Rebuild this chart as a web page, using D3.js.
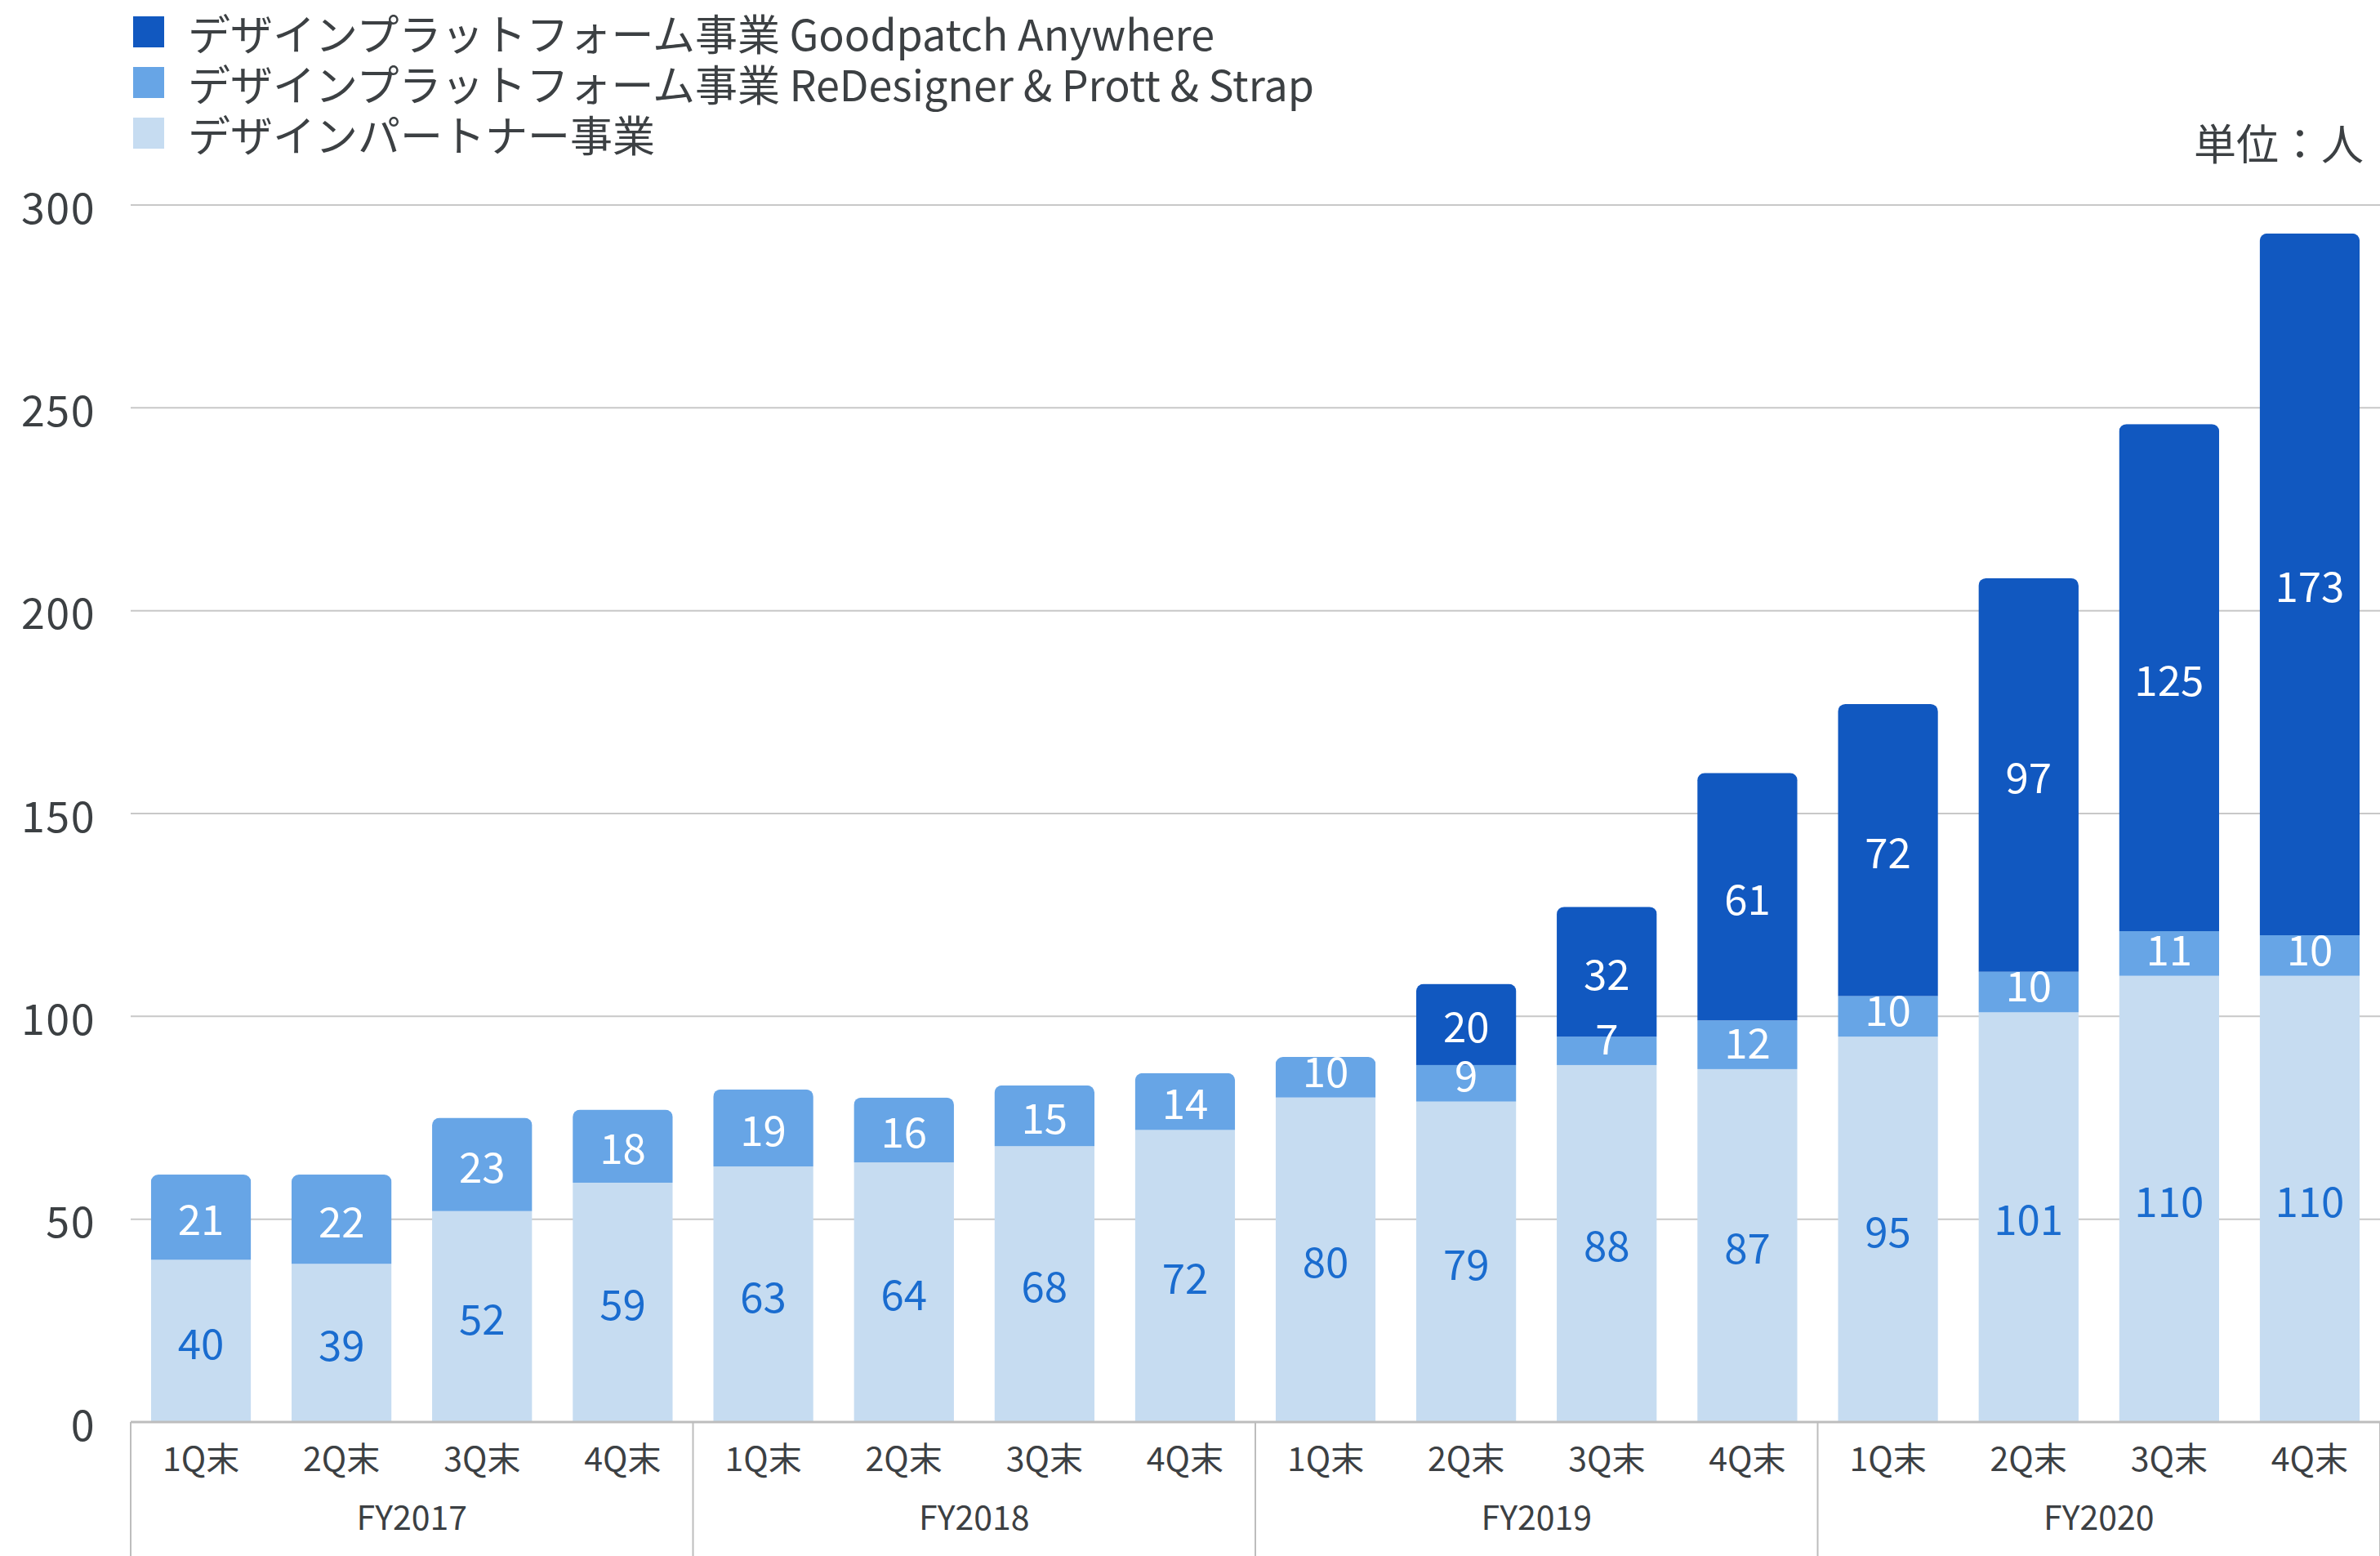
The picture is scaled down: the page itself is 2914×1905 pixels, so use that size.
<!DOCTYPE html>
<html>
<head>
<meta charset="utf-8">
<script src="https://cdn.jsdelivr.net/npm/d3@7"></script>
<style>
  html, body { margin: 0; padding: 0; background: #fff; }
  svg { display: block; }
  text { font-family: "Noto Sans CJK JP", "Noto Sans", sans-serif; }
</style>
</head>
<body>
<svg id="chart" width="2914" height="1905"></svg>
<script>
// Headcount by business at each quarter end (unit: people)
const fiscalYears = ["FY2017", "FY2018", "FY2019", "FY2020"];
const quarterLabels = ["1Q末", "2Q末", "3Q末", "4Q末"];
const partner   = [40, 39, 52, 59, 63, 64, 68, 72, 80, 79, 88, 87, 95, 101, 110, 110];
const redesigner = [21, 22, 23, 18, 19, 16, 15, 14, 10, 9, 7, 12, 10, 10, 11, 10];
const anywhere  = [0, 0, 0, 0, 0, 0, 0, 0, 0, 20, 32, 61, 72, 97, 125, 173];
const yTicks = [0, 50, 100, 150, 200, 250, 300];
const seriesNames = [
  "デザインプラットフォーム事業 Goodpatch Anywhere",
  "デザインプラットフォーム事業 ReDesigner & Prott & Strap",
  "デザインパートナー事業"
];
const unitLabel = "単位：人";

const colors = { partner: "#c6dcf1", redesigner: "#67a5e6", anywhere: "#1158c0" };
const labelColors = { partner: "#1a6ccf", redesigner: "#ffffff", anywhere: "#ffffff" };
const textColor = "#3c4043";

const svg = d3.select("#chart");
const W = 2914, H = 1905;
const plotLeft = 160, plotRight = 2914, plotTop = 251, plotBottom = 1741;
const labelBox = 70; // height reserved for a value label inside a segment

const rows = partner.map((d, i) => ({
  idx: i,
  fy: fiscalYears[Math.floor(i / 4)],
  q: quarterLabels[i % 4],
  partner: d,
  redesigner: redesigner[i],
  anywhere: anywhere[i]
}));

const keys = ["partner", "redesigner", "anywhere"];
const stacked = d3.stack().keys(keys)(rows);

const x = d3.scaleBand()
  .domain(rows.map(d => d.idx))
  .range([plotLeft, plotRight])
  .paddingInner(0.288)
  .paddingOuter(0.144);

const y = d3.scaleLinear().domain([0, 300]).range([plotBottom, plotTop]);

// Gridlines
svg.append("g")
  .selectAll("line")
  .data(yTicks.filter(t => t > 0))
  .join("line")
  .attr("x1", plotLeft).attr("x2", plotRight)
  .attr("y1", d => y(d)).attr("y2", d => y(d))
  .attr("stroke", "#c8c8c8").attr("stroke-width", 2);

// Y axis labels
svg.append("g")
  .selectAll("text")
  .data(yTicks)
  .join("text")
  .attr("x", 117)
  .attr("y", d => y(d))
  .attr("text-anchor", "end")
  .attr("dominant-baseline", "central")
  .attr("font-size", 52)
  .attr("letter-spacing", 1.5)
  .attr("fill", textColor)
  .text(d => d);

// Clip each stack to a rounded-top column
const defs = svg.append("defs");
rows.forEach(r => {
  const total = r.partner + r.redesigner + r.anywhere;
  defs.append("clipPath").attr("id", "bar-clip-" + r.idx)
    .append("rect")
    .attr("x", x(r.idx))
    .attr("y", y(total))
    .attr("width", x.bandwidth())
    .attr("height", plotBottom - y(total) + 30)
    .attr("rx", 9).attr("ry", 9);
});

const bars = svg.append("g");
rows.forEach(r => {
  const g = bars.append("g").attr("clip-path", "url(#bar-clip-" + r.idx + ")");
  stacked.forEach(s => {
    const seg = s[r.idx];
    const v = seg[1] - seg[0];
    if (v <= 0) return;
    g.append("rect")
      .attr("x", x(r.idx))
      .attr("y", y(seg[1]))
      .attr("width", x.bandwidth())
      .attr("height", y(seg[0]) - y(seg[1]))
      .attr("fill", colors[s.key]);
  });
  stacked.forEach(s => {
    const seg = s[r.idx];
    const v = seg[1] - seg[0];
    if (v <= 0) return;
    // centre the label; in thin segments keep its box resting on the segment bottom
    const segH = y(seg[0]) - y(seg[1]);
    const ly = y(seg[0]) - Math.max(segH / 2, labelBox / 2);
    g.append("text")
      .attr("x", x(r.idx) + x.bandwidth() / 2)
      .attr("y", ly)
      .attr("text-anchor", "middle")
      .attr("dominant-baseline", "central")
      .attr("font-size", 51)
      .attr("fill", labelColors[s.key])
      .text(v);
  });
});

// Baseline
svg.append("line")
  .attr("x1", plotLeft).attr("x2", plotRight)
  .attr("y1", plotBottom).attr("y2", plotBottom)
  .attr("stroke", "#bdbdbd").attr("stroke-width", 3);

// Group dividers
const step = x.step();
svg.append("g")
  .selectAll("line")
  .data(d3.range(fiscalYears.length + 1))
  .join("line")
  .attr("x1", k => plotLeft + k * 4 * step)
  .attr("x2", k => plotLeft + k * 4 * step)
  .attr("y1", plotBottom).attr("y2", H)
  .attr("stroke", "#bdbdbd").attr("stroke-width", 2);

// Quarter labels
svg.append("g")
  .selectAll("text")
  .data(rows)
  .join("text")
  .attr("x", d => x(d.idx) + x.bandwidth() / 2)
  .attr("y", 1783)
  .attr("text-anchor", "middle")
  .attr("dominant-baseline", "central")
  .attr("font-size", 41)
  .attr("fill", textColor)
  .text(d => d.q);

// Fiscal year labels
svg.append("g")
  .selectAll("text")
  .data(fiscalYears)
  .join("text")
  .attr("x", (d, k) => plotLeft + (k * 4 + 2) * step)
  .attr("y", 1855)
  .attr("text-anchor", "middle")
  .attr("dominant-baseline", "central")
  .attr("font-size", 41)
  .attr("fill", textColor)
  .text(d => d);

// Legend
const legendKeys = ["anywhere", "redesigner", "partner"];
const legend = svg.append("g");
const legendY = [39, 101, 163];
legendKeys.forEach((k, i) => {
  legend.append("rect")
    .attr("x", 163).attr("y", legendY[i] - 19)
    .attr("width", 38).attr("height", 38)
    .attr("fill", colors[k]);
  legend.append("text")
    .attr("x", 230).attr("y", legendY[i])
    .attr("dominant-baseline", "central")
    .attr("font-size", 52)
    .attr("fill", textColor)
    .text(seriesNames[i]);
});

// Unit label
svg.append("text")
  .attr("x", 2894).attr("y", 173)
  .attr("text-anchor", "end")
  .attr("dominant-baseline", "central")
  .attr("font-size", 52)
  .attr("fill", textColor)
  .text(unitLabel);
</script>
</body>
</html>
